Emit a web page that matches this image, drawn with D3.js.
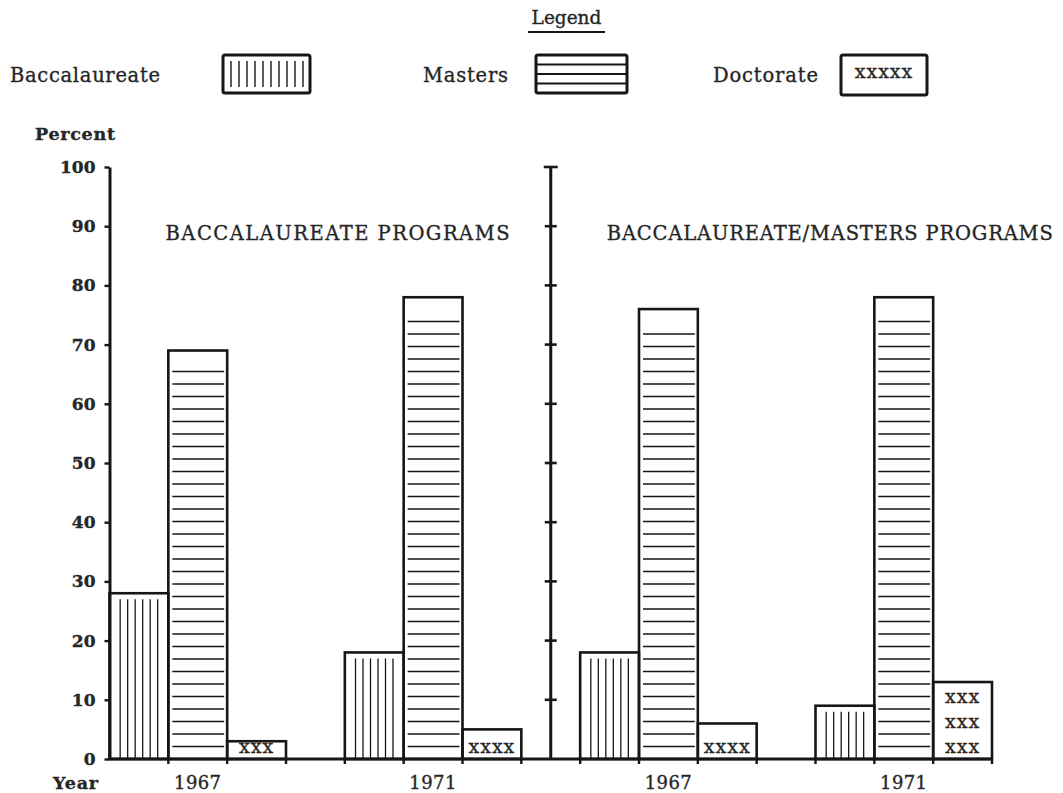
<!DOCTYPE html>
<html><head><meta charset="utf-8">
<script src="https://cdn.jsdelivr.net/npm/d3@7"></script>
<style>
body{margin:0;background:#fff}
svg{display:block}
text{font-family:"DejaVu Serif",serif;fill:#262626;stroke:#262626;stroke-width:0.35}
</style>
</head><body>
<svg id="chart" width="1063" height="793"></svg>
<script>
// ---------- data ----------
const panels = ["BACCALAUREATE PROGRAMS", "BACCALAUREATE/MASTERS PROGRAMS"];
const years = ["1967", "1971"];
const series = ["Baccalaureate", "Masters", "Doctorate"];
// order of groups: [panel1-1967, panel1-1971, panel2-1967, panel2-1971]
const groupPanel = [0, 0, 1, 1];
const groupYear = ["1967", "1971", "1967", "1971"];
const baccalaureate = [28, 18, 18, 9];
const masters = [69, 78, 76, 78];
const doctorate = [3, 5, 6, 13];
const doctorateMarks = [["xxx"], ["xxxx"], ["xxxx"], ["xxx", "xxx", "xxx"]];
const yTicks = [0, 10, 20, 30, 40, 50, 60, 70, 80, 90, 100];
const legendTitle = "Legend";
const legendMark = "xxxxx";
const yAxisTitle = "Percent";
const xAxisTitle = "Year";

const values = [baccalaureate, masters, doctorate];
const ink = "#161616";

// ---------- scales ----------
const svg = d3.select("#chart");
const y = d3.scaleLinear().domain([0, 100]).range([759, 167]);
const x0 = d3.scaleBand().domain(d3.range(groupYear.length)).range([109.5, 992]).paddingInner(0.25).paddingOuter(0);
const x1 = d3.scaleBand().domain(series).range([0, x0.bandwidth()]);
const bw = x1.bandwidth();
const midX = (x0(1) + x0.bandwidth() + x0(2)) / 2;

// ---------- bars ----------
const bars = [];
groupYear.forEach((yr, g) => series.forEach((s, si) => {
  bars.push({g, s, si, v: values[si][g], x: x0(g) + x1(s)});
}));

const barG = svg.append("g");
bars.forEach(b => {
  const top = y(b.v), bot = y(0);
  const gb = barG.append("g");
  if (b.s === "Baccalaureate") {
    const n = Math.floor((bw - 14) / 7.5) + 1;
    const span = (n - 1) * 7.5;
    const start = b.x + (bw - span) / 2;
    gb.selectAll("line").data(d3.range(n)).join("line")
      .attr("x1", i => start + i * 7.5).attr("x2", i => start + i * 7.5)
      .attr("y1", top + 6).attr("y2", bot)
      .attr("stroke", ink).attr("stroke-width", 1.3);
  } else if (b.s === "Masters") {
    const ys = [];
    for (let k = 1; bot - k * 12.5 >= top + 18; k++) ys.push(bot - k * 12.5);
    gb.selectAll("line").data(ys).join("line")
      .attr("x1", b.x + 4).attr("x2", b.x + bw - 3)
      .attr("y1", d => d).attr("y2", d => d)
      .attr("stroke", ink).attr("stroke-width", 1.6);
  } else {
    const rows = doctorateMarks[b.g];
    gb.selectAll("text").data(rows).join("text")
      .attr("x", b.x + bw / 2)
      .attr("y", (d, i) => bot - 6 - (rows.length - 1 - i) * 25)
      .attr("text-anchor", "middle")
      .attr("font-size", 19).attr("letter-spacing", 1)
      .text(d => d);
  }
  gb.append("rect")
    .attr("x", b.x).attr("y", top).attr("width", bw).attr("height", bot - top)
    .attr("fill", "none").attr("stroke", ink).attr("stroke-width", 2.6);
});

// ---------- baseline & x ticks ----------
const xEnd = x0(groupYear.length - 1) + x0.bandwidth();
svg.append("line").attr("x1", x0(0)).attr("x2", xEnd)
  .attr("y1", y(0)).attr("y2", y(0)).attr("stroke", ink).attr("stroke-width", 3);
const edges = [];
groupYear.forEach((yr, g) => series.forEach((s, si) => {
  edges.push(x0(g) + x1(s));
  if (si === series.length - 1) edges.push(x0(g) + x1(s) + bw);
}));
svg.append("g").selectAll("line").data(edges.filter(e => e > x0(0) + 1)).join("line")
  .attr("x1", d => d).attr("x2", d => d).attr("y1", y(0)).attr("y2", y(0) + 5)
  .attr("stroke", ink).attr("stroke-width", 2.4);

// year labels
svg.append("g").selectAll("text").data(groupYear).join("text")
  .attr("x", (d, i) => x0(i) + x0.bandwidth() / 2).attr("y", 789)
  .attr("text-anchor", "middle").attr("font-size", 18).attr("letter-spacing", 0.4)
  .text(d => d);
svg.append("text").attr("x", 53).attr("y", 789)
  .attr("font-size", 17.5).attr("font-weight", "bold").attr("stroke", "none")
  .attr("textLength", 45).attr("lengthAdjust", "spacing").text(xAxisTitle);

// ---------- left y axis ----------
const yAxis = svg.append("g").attr("transform", `translate(${x0(0)},0)`)
  .call(d3.axisLeft(y).tickValues(yTicks).tickSize(5).tickSizeOuter(0).tickPadding(9));
yAxis.select(".domain").attr("stroke", ink).attr("stroke-width", 3);
yAxis.selectAll(".tick line").attr("stroke", ink).attr("stroke-width", 2.4);
yAxis.selectAll(".tick text").attr("font-family", "DejaVu Serif").attr("font-size", 17)
  .attr("font-weight", "bold").attr("fill", "#262626").attr("stroke", "none");
yAxis.attr("font-family", null).attr("font-size", null);
svg.append("text").attr("x", 35).attr("y", 140).attr("font-size", 17.5)
  .attr("font-weight", "bold").attr("stroke", "none")
  .attr("textLength", 80).attr("lengthAdjust", "spacing").text(yAxisTitle);

// ---------- middle divider axis ----------
svg.append("line").attr("x1", midX).attr("x2", midX).attr("y1", y(100)).attr("y2", y(0))
  .attr("stroke", ink).attr("stroke-width", 3);
svg.append("g").selectAll("line").data(yTicks.filter(v => v > 0)).join("line")
  .attr("x1", d => midX - (d === 100 ? 7 : 6)).attr("x2", d => midX + (d === 100 ? 7 : 6))
  .attr("y1", d => y(d)).attr("y2", d => y(d))
  .attr("stroke", ink).attr("stroke-width", 2.6);

// ---------- panel titles ----------
const titleLen = [344, 446];
svg.append("g").selectAll("text").data(panels).join("text")
  .attr("x", (d, i) => (i === 0 ? x0(0) : midX) + 56)
  .attr("y", 240).attr("font-size", 19.5)
  .attr("textLength", (d, i) => titleLen[i]).attr("lengthAdjust", "spacing")
  .text(d => d);

// ---------- legend ----------
svg.append("text").attr("x", 566.5).attr("y", 24).attr("text-anchor", "middle")
  .attr("font-size", 18.5).text(legendTitle);
svg.append("line").attr("x1", 528).attr("x2", 605).attr("y1", 32).attr("y2", 32)
  .attr("stroke", ink).attr("stroke-width", 2);

const legendLayout = [
  {tx: 10, tl: 150, bx: 223, bw: 87},
  {tx: 423, tl: 85, bx: 536, bw: 91},
  {tx: 713, tl: 105, bx: 841, bw: 86}
];
series.forEach((s, i) => {
  const L = legendLayout[i];
  const lg = svg.append("g");
  lg.append("text").attr("x", L.tx).attr("y", 82).attr("font-size", 19.5)
    .attr("textLength", L.tl).attr("lengthAdjust", "spacing").text(s);
  const bt = 55, bb = i === 2 ? 95 : 93;
  if (s === "Baccalaureate") {
    lg.selectAll("line").data(d3.range(10)).join("line")
      .attr("x1", k => L.bx + 8 + k * 8).attr("x2", k => L.bx + 8 + k * 8)
      .attr("y1", bt + 6).attr("y2", bb - 6)
      .attr("stroke", ink).attr("stroke-width", 1.4);
  } else if (s === "Masters") {
    lg.selectAll("line").data([1, 2, 3]).join("line")
      .attr("x1", L.bx).attr("x2", L.bx + L.bw)
      .attr("y1", k => bt + k * (bb - bt) / 4).attr("y2", k => bt + k * (bb - bt) / 4)
      .attr("stroke", ink).attr("stroke-width", 1.8);
  } else {
    lg.append("text").attr("x", L.bx + L.bw / 2).attr("y", 78)
      .attr("text-anchor", "middle").attr("font-size", 19).attr("letter-spacing", 1)
      .text(legendMark);
  }
  lg.append("rect").attr("x", L.bx).attr("y", bt).attr("width", L.bw).attr("height", bb - bt)
    .attr("rx", 2).attr("fill", "none").attr("stroke", ink).attr("stroke-width", 3);
});
</script>
</body></html>
